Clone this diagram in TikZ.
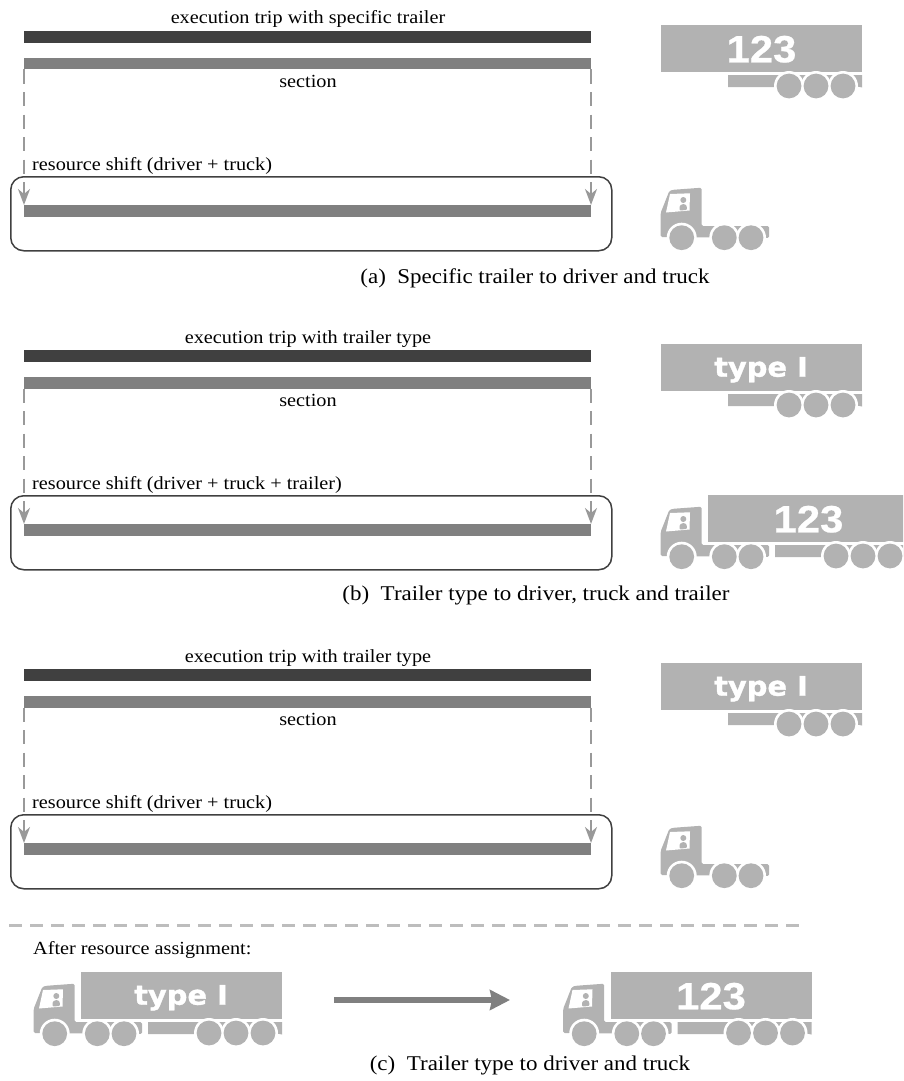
\documentclass[tikz,border=0pt]{standalone}
\usepackage{fontspec}
\setmainfont{Liberation Serif}[FakeStretch=1.095]
\newfontfamily\badge{Liberation Sans Bold}[FakeStretch=1.1,FakeBold=0.6]
\newfontfamily\badgewide{DejaVu Sans Bold}[FakeStretch=1.07,FakeBold=1.2]
\usetikzlibrary{arrows.meta}
\definecolor{truckgray}{HTML}{B2B2B2}
\definecolor{darkbar}{HTML}{404040}
\definecolor{midbar}{HTML}{808080}
\definecolor{dashgray}{HTML}{999999}
\definecolor{sepgray}{HTML}{BDBDBD}
\tikzset{
  lbl/.style={inner sep=0pt,anchor=base,font=\fontsize{18.5}{20}\selectfont,text=black},
  caplbl/.style={inner sep=0pt,anchor=base,font=\fontsize{21}{23}\selectfont,text=black},
  barbase/.style={anchor=north west,minimum width=567pt,inner sep=0pt,outer sep=0pt},
  darkb/.style={barbase,fill=darkbar,minimum height=11.5pt},
  midb/.style={barbase,fill=midbar,minimum height=11.5pt},
  shiftbox/.style={draw=darkbar,line width=1.5pt,rounded corners=13pt,anchor=north west,minimum width=601pt,minimum height=74pt,inner sep=0pt},
  drop/.style={draw=dashgray,line width=2.2pt,dash pattern=on 14pt off 8.5pt,-{Stealth[length=16pt,width=12pt,inset=5pt,fill=dashgray]}},
  numtext/.style={text=white,inner sep=0pt,anchor=base,font=\badge\fontsize{38}{40}\selectfont},
  typetext/.style={text=white,inner sep=0pt,anchor=base,font=\badgewide\fontsize{27}{30}\selectfont},
  wheelring/.pic={\fill[white] (0,0) circle (15);},
  wheel/.pic={\fill[truckgray] (0,0) circle (12.4);},
  truckpic/.pic={
    \fill[truckgray,rounded corners=1.5pt] (20.7,67) -- (20.7,42.7) -- (29.3,21) -- (33,19.8) -- (61.7,17.7) -- (61.7,56) -- (129,56) -- (129,68) -- cycle;
    \fill[white] (30,24) -- (50,23.3) -- (49.5,40.5) -- (26,42.5) -- cycle;
    \fill[truckgray] (43.3,30) circle (3);
    \fill[truckgray,rounded corners=1pt] (39.5,40.5) -- (39.5,36) -- (42,34.2) -- (45,34.2) -- (46.8,36) -- (46.8,40) -- cycle;
    \pic at (41.7,67.7) {wheelring};
    \pic at (84.3,67.7) {wheelring};
    \pic at (111,67.7) {wheelring};
    \pic at (41.7,67.7) {wheel};
    \pic at (84.3,67.7) {wheel};
    \pic at (111,67.7) {wheel};
  },
  trailerbase/.pic={
    \fill[truckgray] (0,0) rectangle (201,46.5);
    \fill[truckgray] (67,50) -- (201,50) -- (201,62.5) -- (196,61.5) -- (190,62) -- (67,62) -- cycle;
    \pic at (128,61) {wheelring};
    \pic at (155,61) {wheelring};
    \pic at (182,61) {wheelring};
    \pic at (128,61) {wheel};
    \pic at (155,61) {wheel};
    \pic at (182,61) {wheel};
  },
  numtrailer/.pic={\pic at (0,0) {trailerbase}; \node[numtext] at (100.5,37.3) {123};},
  typetrailer/.pic={\pic at (0,0) {trailerbase}; \node[typetext] at (100,32.7) {type I};},
}
\newcommand{\sectionblock}[4]{% offset, name, top label, shift label
  \begin{scope}[yshift=#1]
    \node[lbl] (top#2) at (308,24) {#3};
    \node[darkb] (exec#2) at (24,31.3) {};
    \node[midb] (sec#2) at (24,58) {};
    \node[lbl] (sl#2) at (308,87.3) {section};
    \node[lbl,anchor=base west] (rs#2) at (32,170) {#4};
    \node[shiftbox] (box#2) at (10,176) {};
    \node[midb] (low#2) at (24,205) {};
    \draw[drop] (sec#2.south west) -- (low#2.north west);
    \draw[drop] (sec#2.south east) -- (low#2.north east);
  \end{scope}
}
\begin{document}
\begin{tikzpicture}[x=1pt,y=-1pt]
  \path[use as bounding box,clip] (0,0) rectangle (903,1081);
  \sectionblock{0pt}{a}{execution trip with specific trailer}{resource shift (driver + truck)}
  \sectionblock{-319pt}{b}{execution trip with trailer type}{resource shift (driver + truck + trailer)}
  \sectionblock{-638pt}{c}{execution trip with trailer type}{resource shift (driver + truck)}
  % vehicles
  \pic at (661,25) {numtrailer};
  \pic at (640,170) {truckpic};
  \pic at (661,344) {typetrailer};
  \pic at (640,489) {truckpic};
  \pic at (708,495) {numtrailer};
  \pic at (661,663) {typetrailer};
  \pic at (640,808) {truckpic};
  \pic at (13,966) {truckpic};
  \pic at (81,972) {typetrailer};
  \pic at (542.5,966) {truckpic};
  \pic at (610.5,972) {numtrailer};
  % captions
  \node[caplbl] (capa) at (535,283.3) {(a)\ \ Specific trailer to driver and truck};
  \node[caplbl] (capb) at (536,600) {(b)\ \ Trailer type to driver, truck and trailer};
  \node[caplbl] (capc) at (530,1070.7) {(c)\ \ Trailer type to driver and truck};
  % separator and assignment
  \coordinate (sepl) at (9,925);
  \coordinate (sepr) at (803,925);
  \draw[sepgray,line width=3pt,dash pattern=on 12.5pt off 8.5pt] (sepl) -- (sepr);
  \node[lbl,anchor=base west] (after) at (33,954.3) {After resource assignment:};
  \coordinate (al) at (334,1000);
  \coordinate (ar) at (510,1000);
  \draw[midbar,line width=6pt,-{Stealth[length=20pt,width=20pt,inset=2pt]}] (al) -- (ar);
\end{tikzpicture}
\end{document}
